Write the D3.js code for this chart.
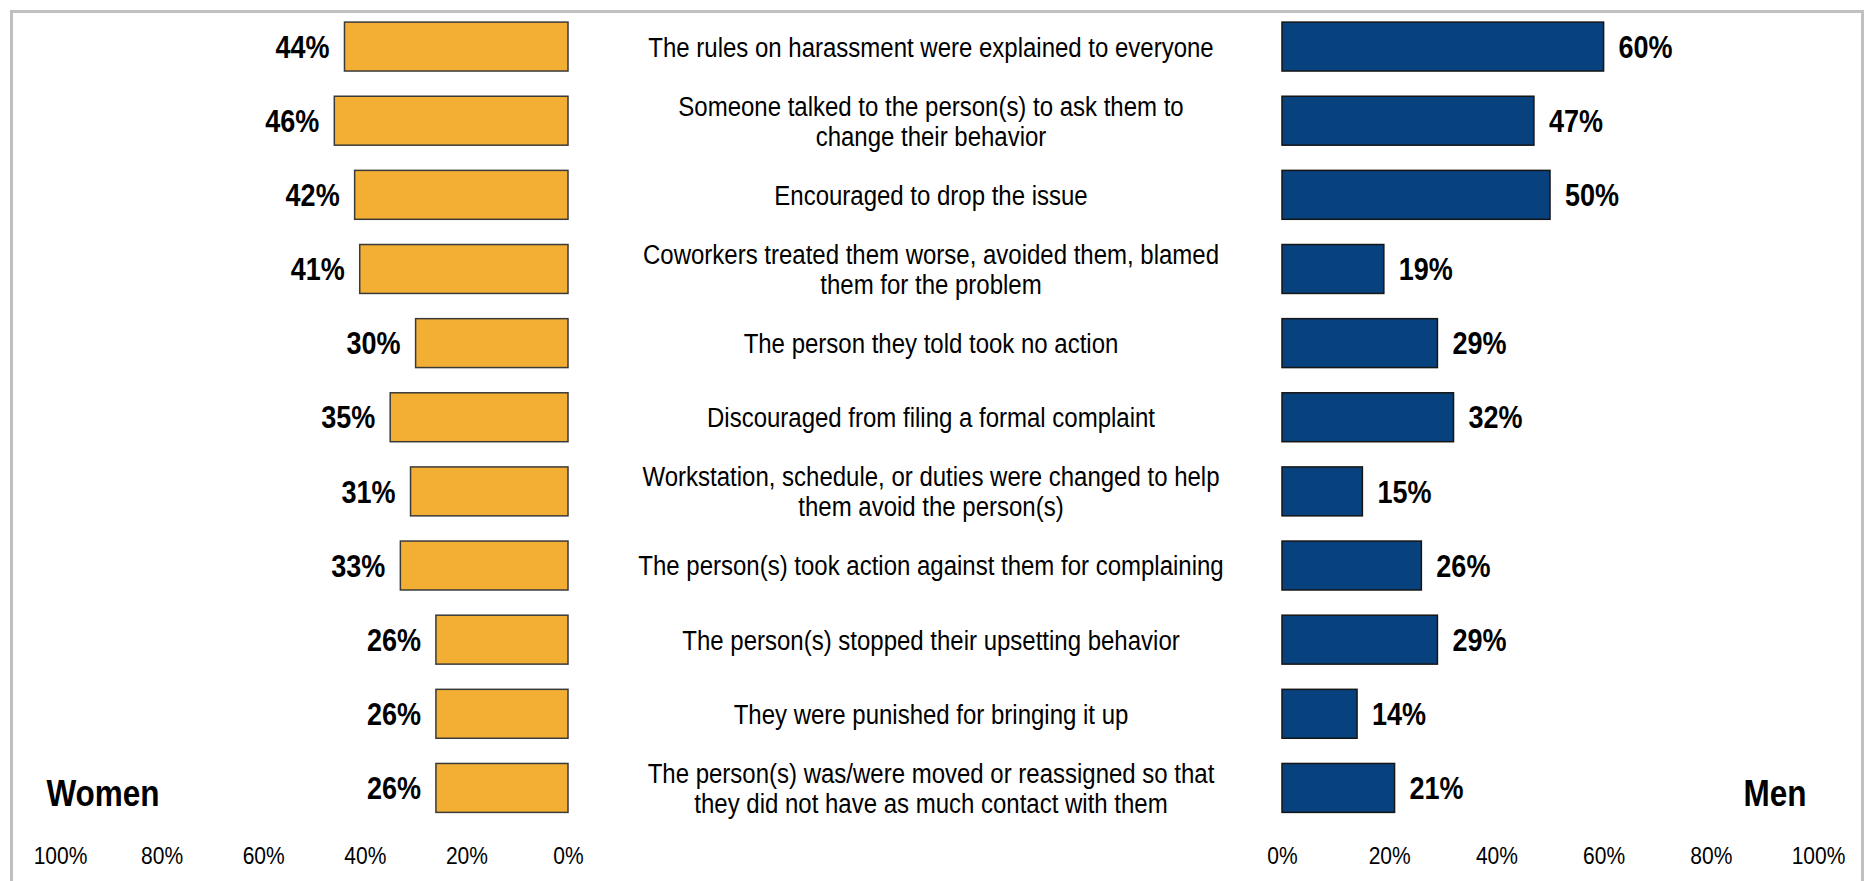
<!DOCTYPE html>
<html>
<head>
<meta charset="utf-8">
<script src="https://cdn.jsdelivr.net/npm/d3@7"></script>
<style>
  html, body { margin: 0; padding: 0; background: #fff; }
  svg { display: block; font-family: "Liberation Sans", Arial, sans-serif; }
</style>
</head>
<body>
<svg id="chart" width="1873" height="881"></svg>
<script>
const categories = [
  ["The rules on harassment were explained to everyone"],
  ["Someone talked to the person(s) to ask them to", "change their behavior"],
  ["Encouraged to drop the issue"],
  ["Coworkers treated them worse, avoided them, blamed", "them for the problem"],
  ["The person they told took no action"],
  ["Discouraged from filing a formal complaint"],
  ["Workstation, schedule, or duties were changed to help", "them avoid the person(s)"],
  ["The person(s) took action against them for complaining"],
  ["The person(s) stopped their upsetting behavior"],
  ["They were punished for bringing it up"],
  ["The person(s) was/were moved or reassigned so that", "they did not have as much contact with them"]
];
const women = [44, 46, 42, 41, 30, 35, 31, 33, 26, 26, 26];
const men   = [60, 47, 50, 19, 29, 32, 15, 26, 29, 14, 21];
const tickValues = [0, 20, 40, 60, 80, 100];
const seriesNames = ["Women", "Men"];

const SX = 0.87; // horizontal squeeze of text seen in the reference

const svg = d3.select("#chart");

svg.append("rect")
  .attr("x", 11.5).attr("y", 11.5)
  .attr("width", 1851).attr("height", 900)
  .attr("fill", "none").attr("stroke", "#c0c0c0").attr("stroke-width", 3);

const idx = d3.range(categories.length);
const y = d3.scaleBand().domain(idx).range([9.5, 825]).paddingInner(0.34).paddingOuter(0.17);
const xL = d3.scaleLinear().domain([0, 100]).range([568, 60]);
const xR = d3.scaleLinear().domain([0, 100]).range([1282, 1818]);

svg.append("g").selectAll("rect").data(idx).join("rect")
  .attr("x", i => xL(women[i]))
  .attr("y", i => y(i))
  .attr("width", i => xL(0) - xL(women[i]))
  .attr("height", y.bandwidth())
  .attr("fill", "#F3AF33")
  .attr("stroke", "#3a3a3a").attr("stroke-width", 1.5);

svg.append("g").selectAll("rect").data(idx).join("rect")
  .attr("x", xR(0))
  .attr("y", i => y(i))
  .attr("width", i => xR(men[i]) - xR(0))
  .attr("height", y.bandwidth())
  .attr("fill", "#07417E")
  .attr("stroke", "#151515").attr("stroke-width", 1.5);

function squeezed(sel, x, yy) {
  return sel.attr("transform", `translate(${x},${yy}) scale(${SX},1)`);
}

// value labels
svg.append("g").selectAll("text").data(idx).join("text")
  .each(function(i) { squeezed(d3.select(this), xL(women[i]) - 15, y(i) + y.bandwidth() / 2); })
  .attr("dy", "0.36em")
  .attr("text-anchor", "end")
  .attr("font-size", 27 / SX).attr("font-weight", "bold").attr("fill", "#000")
  .text(i => women[i] + "%");

svg.append("g").selectAll("text").data(idx).join("text")
  .each(function(i) { squeezed(d3.select(this), xR(men[i]) + 15, y(i) + y.bandwidth() / 2); })
  .attr("dy", "0.36em")
  .attr("text-anchor", "start")
  .attr("font-size", 27 / SX).attr("font-weight", "bold").attr("fill", "#000")
  .text(i => men[i] + "%");

// category labels
const catG = svg.append("g");
idx.forEach(i => {
  const lines = categories[i];
  const cy = y(i) + y.bandwidth() / 2;
  const lh = 30;
  const t = squeezed(catG.append("text"), 931, cy)
    .attr("text-anchor", "middle")
    .attr("font-size", 24 / SX).attr("fill", "#000");
  lines.forEach((ln, k) => {
    t.append("tspan")
      .attr("x", 0)
      .attr("y", (k - (lines.length - 1) / 2) * lh)
      .attr("dy", "0.36em")
      .text(ln);
  });
});

// axes
const axL = d3.axisBottom(xL).tickValues(tickValues).tickSize(0).tickPadding(0).tickFormat(d => d + "%");
const axR = d3.axisBottom(xR).tickValues(tickValues).tickSize(0).tickPadding(0).tickFormat(d => d + "%");
[axL, axR].forEach(ax => {
  const g = svg.append("g").attr("transform", "translate(0,847)").call(ax);
  g.select(".domain").remove();
  g.selectAll("text")
    .attr("transform", `scale(${SX},1)`)
    .attr("x", 0)
    .attr("font-size", 21 / SX).attr("fill", "#000")
    .attr("font-family", "Liberation Sans, Arial, sans-serif");
});

// series titles
squeezed(svg.append("text"), 103, 793).attr("dy", "0.36em")
  .attr("text-anchor", "middle").attr("font-size", 31.5 / SX).attr("font-weight", "bold")
  .text(seriesNames[0]);
squeezed(svg.append("text"), 1775, 793).attr("dy", "0.36em")
  .attr("text-anchor", "middle").attr("font-size", 31.5 / SX).attr("font-weight", "bold")
  .text(seriesNames[1]);
</script>
</body>
</html>
